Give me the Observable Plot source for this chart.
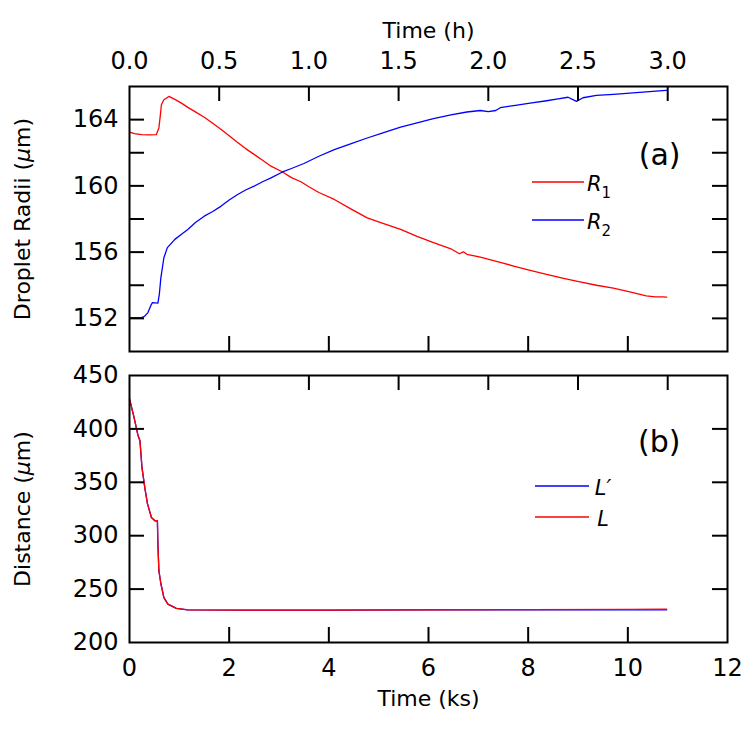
<!DOCTYPE html>
<html>
<head>
<meta charset="utf-8">
<script src="https://cdn.jsdelivr.net/npm/d3@7"></script>
<script src="https://cdn.jsdelivr.net/npm/@observablehq/plot@0.6"></script>
<style>
  body { margin: 0; background: #fff; }
  #chart { width: 751px; height: 733px; }
  #chart svg { display: block; }
</style>
</head>
<body>
<div id="chart"></div>
<script>
// ---------------- data (time in ks) ----------------
const r1Time   = [0.00, 0.10, 0.24, 0.40, 0.54, 0.59, 0.62, 0.64, 0.69, 0.79, 0.91, 1.05, 1.17, 1.33, 1.50, 1.67, 1.84, 2.00, 2.17, 2.33, 2.50, 2.67, 2.84, 3.07, 3.25, 3.44, 3.60, 3.80, 4.11, 4.45, 4.77, 5.10, 5.44, 5.77, 6.10, 6.45, 6.62, 6.70, 6.77, 7.04, 7.44, 7.71, 8.04, 8.37, 8.71, 9.04, 9.37, 9.71, 10.04, 10.37, 10.55, 10.69, 10.78];
const r1Radius = [163.25, 163.15, 163.10, 163.08, 163.10, 163.50, 164.30, 164.90, 165.20, 165.40, 165.22, 164.98, 164.74, 164.45, 164.14, 163.78, 163.40, 163.02, 162.62, 162.25, 161.90, 161.55, 161.19, 160.84, 160.50, 160.25, 159.95, 159.60, 159.18, 158.60, 158.07, 157.72, 157.37, 156.95, 156.57, 156.20, 155.90, 156.02, 155.87, 155.70, 155.38, 155.16, 154.90, 154.66, 154.42, 154.20, 154.00, 153.82, 153.60, 153.36, 153.30, 153.30, 153.28];

const r2Time   = [0.00, 0.24, 0.30, 0.37, 0.44, 0.46, 0.57, 0.60, 0.63, 0.69, 0.76, 0.91, 1.05, 1.17, 1.33, 1.50, 1.67, 1.84, 2.00, 2.17, 2.33, 2.50, 2.67, 2.84, 3.07, 3.25, 3.50, 3.80, 4.11, 4.45, 4.77, 5.10, 5.44, 5.77, 6.10, 6.45, 6.77, 7.04, 7.20, 7.35, 7.44, 7.71, 8.04, 8.37, 8.60, 8.80, 8.97, 9.10, 9.37, 9.71, 10.04, 10.37, 10.69, 10.78];
const r2Radius = [152.05, 152.05, 152.12, 152.35, 152.85, 152.95, 152.92, 153.50, 154.46, 155.66, 156.27, 156.77, 157.10, 157.37, 157.80, 158.17, 158.45, 158.78, 159.15, 159.48, 159.75, 159.98, 160.25, 160.48, 160.84, 161.05, 161.35, 161.79, 162.19, 162.55, 162.89, 163.22, 163.54, 163.80, 164.06, 164.28, 164.46, 164.55, 164.48, 164.55, 164.72, 164.85, 165.00, 165.14, 165.25, 165.35, 165.10, 165.32, 165.46, 165.53, 165.60, 165.68, 165.75, 165.76];

const lTime  = [0.00, 0.09, 0.17, 0.21, 0.25, 0.31, 0.36, 0.44, 0.51, 0.56, 0.57, 0.59, 0.63, 0.69, 0.77, 0.94, 1.17, 2.24, 4.00, 6.00, 8.00, 10.00, 10.78];
const lDist  = [428, 411, 394, 389, 364, 344, 330, 317, 314, 314, 292, 267, 255, 242, 236, 232, 230.6, 230.3, 230.4, 230.6, 230.8, 231.0, 231.3];
const lpTime = [0.00, 0.09, 0.17, 0.21, 0.25, 0.31, 0.36, 0.44, 0.51, 0.56, 0.57, 0.59, 0.63, 0.69, 0.77, 0.94, 1.17, 2.24, 4.00, 6.00, 8.00, 10.00, 10.78];
const lpDist = [428, 411, 394, 389, 364, 344, 330, 317, 314, 314, 292, 267, 255, 242, 236, 232, 230.6, 230.3, 230.4, 230.5, 230.5, 230.5, 230.6];

// ticks
const ksTickLabels   = [0, 2, 4, 6, 8, 10, 12];
const ksTicks        = [2, 4, 6, 8, 10];
const hourTickLabels = [0.0, 0.5, 1.0, 1.5, 2.0, 2.5, 3.0];
const hourTicks      = [0.5, 1.0, 1.5, 2.0, 2.5, 3.0];
const KS_PER_HOUR = 3.6;
const radiusTickLabels = [152, 156, 160, 164];
const radiusTicks      = [152, 154, 156, 158, 160, 162, 164];
const distTickLabels   = [200, 250, 300, 350, 400, 450];
const distTicks        = [250, 300, 350, 400];

const r1 = r1Time.map((t, i) => ({t, v: r1Radius[i]}));
const r2 = r2Time.map((t, i) => ({t, v: r2Radius[i]}));
const L  = lTime.map((t, i) => ({t, v: lDist[i]}));
const Lp = lpTime.map((t, i) => ({t, v: lpDist[i]}));

// ---------------- layout ----------------
const W = 751, ML = 129, MR = 24;
const FW = W - ML - MR;
const TICK = 15;
const FONT = "DejaVu Sans";
const RED = "#ff0000", BLUE = "#0000ff";

function ticksMarks(fh, yTicks) {
  const s = {stroke: "#000", strokeWidth: 2};
  return [
    Plot.tickX(hourTicks.map(h => h * KS_PER_HOUR), {x: d => d, insetBottom: fh - TICK, ...s}),
    Plot.tickX(ksTicks, {x: d => d, insetTop: fh - TICK, ...s}),
    Plot.tickY(yTicks, {y: d => d, insetRight: FW - TICK, ...s}),
    Plot.tickY(yTicks, {y: d => d, insetLeft: FW - TICK, ...s})
  ];
}

// ---------------- panel (a) ----------------
const H1 = 363, MT1 = 86, MB1 = 12;
const FH1 = H1 - MT1 - MB1;
const panelA = Plot.plot({
  width: W, height: H1, marginLeft: ML, marginRight: MR, marginTop: MT1, marginBottom: MB1,
  style: {fontFamily: FONT, fontSize: "24px", background: "#fff", color: "#000", overflow: "visible"},
  x: {domain: [0, 12]},
  y: {domain: [150, 166]},
  marks: [
    Plot.line(r1, {x: "t", y: "v", stroke: RED, strokeWidth: 1.3}),
    Plot.line(r2, {x: "t", y: "v", stroke: BLUE, strokeWidth: 1.3}),
    ...ticksMarks(FH1, radiusTicks),
    Plot.frame({stroke: "#000", strokeWidth: 2}),
    Plot.axisX(hourTickLabels.map(h => h * KS_PER_HOUR), {anchor: "top", tickSize: 0, tickPadding: 18, tickFormat: d => (d / KS_PER_HOUR).toFixed(1), label: null}),
    Plot.axisY(radiusTickLabels, {anchor: "left", tickSize: 0, tickPadding: 11, label: null}),
    Plot.text(["Time (h)"], {frameAnchor: "top", dy: -64, fontSize: 22, textAnchor: "middle"}),
    Plot.text(["Droplet Radii (µm)"], {frameAnchor: "left", dx: -107, rotate: -90, fontSize: 22, textAnchor: "middle"}),
    Plot.text(["(a)"], {frameAnchor: "top-right", dx: -47, dy: 57, textAnchor: "end", fontSize: 30})
  ]
});

// ---------------- panel (b) ----------------
const H2 = 370, MT2 = 12, MB2 = 91;
const FH2 = H2 - MT2 - MB2;
const panelB = Plot.plot({
  width: W, height: H2, marginLeft: ML, marginRight: MR, marginTop: MT2, marginBottom: MB2,
  style: {fontFamily: FONT, fontSize: "24px", background: "#fff", color: "#000", overflow: "visible"},
  x: {domain: [0, 12]},
  y: {domain: [200, 450]},
  marks: [
    Plot.line(Lp, {x: "t", y: "v", stroke: BLUE, strokeWidth: 1.3}),
    Plot.line(L, {x: "t", y: "v", stroke: RED, strokeWidth: 1.3}),
    ...ticksMarks(FH2, distTicks),
    Plot.frame({stroke: "#000", strokeWidth: 2}),
    Plot.axisX(ksTickLabels, {anchor: "bottom", tickSize: 0, tickPadding: 16, label: null}),
    Plot.axisY(distTickLabels, {anchor: "left", tickSize: 0, tickPadding: 11, label: null}),
    Plot.text(["Time (ks)"], {frameAnchor: "bottom", dy: 63, fontSize: 22, textAnchor: "middle"}),
    Plot.text(["Distance (µm)"], {frameAnchor: "left", dx: -107, rotate: -90, fontSize: 22, textAnchor: "middle"}),
    Plot.text(["(b)"], {frameAnchor: "top-right", dx: -47, dy: 55, textAnchor: "end", fontSize: 30})
  ]
});

// ---------------- rich text (italic symbols) ----------------
function rich(svg, plain, parts) {
  d3.select(svg).selectAll("text").filter(function () { return this.textContent === plain; })
    .each(function () {
      const t = d3.select(this);
      t.text(null);
      for (const p of parts) {
        const s = t.append("tspan").text(p.text);
        if (p.italic) s.attr("font-style", "italic");
      }
    });
}
rich(panelA, "Droplet Radii (µm)", [{text: "Droplet Radii ("}, {text: "µ", italic: true}, {text: "m)"}]);
rich(panelB, "Distance (µm)", [{text: "Distance ("}, {text: "µ", italic: true}, {text: "m)"}]);

// ---------------- legends ----------------
function legend(svg, items) {
  const g = d3.select(svg).append("g").attr("font-family", FONT);
  for (const it of items) {
    g.append("line").attr("x1", it.x1).attr("x2", it.x2).attr("y1", it.y).attr("y2", it.y)
      .attr("stroke", it.color).attr("stroke-width", 1.3);
    const t = g.append("text").attr("x", it.tx).attr("y", it.ty).attr("font-size", 21);
    t.append("tspan").attr("font-style", "italic").text(it.sym);
    if (it.sub) t.append("tspan").attr("font-size", 15).attr("dy", 7).text(it.sub);
  }
}
legend(panelA, [
  {x1: 532, x2: 584, y: 182, color: RED,  tx: 599, ty: 191, sym: "R", sub: "1"},
  {x1: 532, x2: 584, y: 220, color: BLUE, tx: 599, ty: 229, sym: "R", sub: "2"}
]);
legend(panelB, [
  {x1: 535, x2: 589, y: 486 - H1, color: BLUE, tx: 603, ty: 495 - H1, sym: "L\u2032"},
  {x1: 535, x2: 589, y: 517 - H1, color: RED,  tx: 603, ty: 526 - H1, sym: "L"}
]);

document.getElementById("chart").append(panelA, panelB);
</script>
</body>
</html>
